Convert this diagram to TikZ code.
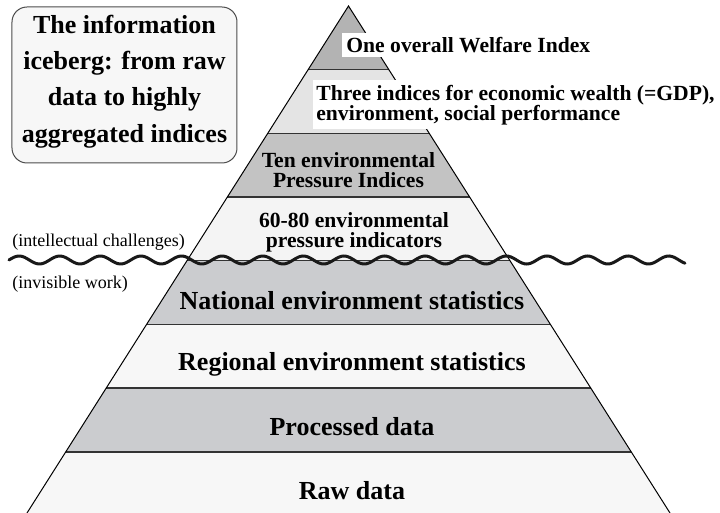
\documentclass[tikz,border=0pt]{standalone}
\usepackage{fontspec}
\setmainfont{Liberation Serif}
\usetikzlibrary{calc}

\definecolor{capaA}{HTML}{B3B3B3}
\definecolor{capaB}{HTML}{E4E4E4}
\definecolor{capaC}{HTML}{C3C3C3}
\definecolor{capaD}{HTML}{F4F4F4}
\definecolor{capaE}{HTML}{CBCCCF}
\definecolor{capaF}{HTML}{F7F7F7}
\definecolor{fondocaja}{HTML}{F7F7F7}

\begin{document}
\begin{tikzpicture}[
	x=0.5pt, y=-0.5pt,
	miborde/.style ={line width=0.7pt, color=black!80},
	milado/.style ={line width=0.5pt, color=black},
	miola/.style ={line width=1.5pt, color=black!90, line cap=round},
	micaja/.style ={draw=black!70, line width=0.5pt, fill=fondocaja, rounded corners=7.5pt,
		minimum width=112.5pt, minimum height=78pt, inner sep=0pt},
	mititulo/.style ={align=center, inner sep=0pt, font=\bfseries\fontsize{13}{18.15}\selectfont},
	mirotulo/.style ={inner xsep=2pt, inner ysep=2.2pt, font=\bfseries\fontsize{10.8}{10}\selectfont},
	mipiso/.style ={anchor=base, inner sep=0pt, font=\bfseries\fontsize{13}{15}\selectfont},
	minota/.style ={anchor=base west, inner sep=0pt, font=\fontsize{9}{11}\selectfont}]

	\useasboundingbox (0,0) rectangle (720,513);

	\def\cx{348.5}% centre of the iceberg
	\def\cy{6}% tip
	\def\alto{63.7}% height of one layer
	\def\pend{0.6341}% half width per unit of depth
	\def\onda{8.867}% degrees per unit along the water line (one wave = 40.6)

	\coordinate (cima) at (\cx,\cy);
	\coordinate (baseI) at (27,513);
	\coordinate (baseD) at (670,513);

	% layers, top to bottom
	\foreach \k/\col in {0/capaA,1/capaB,2/capaC,3/capaD,4/capaE,5/capaF,6/capaE,7/capaF}{
		\pgfmathsetmacro{\ya}{\cy+\alto*\k}
		\pgfmathsetmacro{\yb}{min(513,\cy+\alto*(\k+1))}
		\pgfmathsetmacro{\wa}{\pend*(\ya-\cy)}
		\pgfmathsetmacro{\wb}{\pend*(\yb-\cy)}
		\fill[\col] ({\cx-\wa},\ya) -- ({\cx+\wa},\ya) -- ({\cx+\wb},\yb) -- ({\cx-\wb},\yb) -- cycle;
	}
	\foreach \k in {1,...,7}{
		\pgfmathsetmacro{\ya}{\cy+\alto*\k}
		\pgfmathsetmacro{\wa}{\pend*(\ya-\cy)}
		\draw[miborde] ({\cx-\wa},\ya) -- ({\cx+\wa},\ya);
	}
	\draw[milado] (baseI) -- (cima) -- (baseD);

	% visible part
	\node[mirotulo, fill=white, anchor=west] (indice) at (342,45) {One overall Welfare Index};
	\node[mirotulo, fill=white, anchor=north west, align=left, inner xsep=1.5pt] (tres) at (313,80)
		{Three indices for economic wealth (=GDP),\\environment, social performance};
	\node[mirotulo, align=center] (diez) at (348.5,170) {Ten environmental\\Pressure Indices};
	\node[mirotulo, align=center] (sesenta) at (354,232) {60-80 environmental\\pressure indicators};

	% invisible part
	\node[mipiso] (nacional) at (352,310) {National environment statistics};
	\node[mipiso] (regional) at (352,371) {Regional environment statistics};
	\node[mipiso] (procesados) at (352,436) {Processed data};
	\node[mipiso] (brutos) at (352,500) {Raw data};

	\node[micaja] (marco) at (124.5,85) {};
	\node[mititulo] (titulo) at (124.5,81.5)
		{The information\\iceberg: from raw\\data to highly\\aggregated indices};

	\node[minota] (intelectual) at (12,246.5) {(intellectual challenges)};
	\node[minota] (invisible) at (12,288.5) {(invisible work)};

	% water line
	\draw[miola] plot[domain=9:685, samples=300, smooth] (\x,{260-4*sin(\onda*(\x-9))});
\end{tikzpicture}
\end{document}
